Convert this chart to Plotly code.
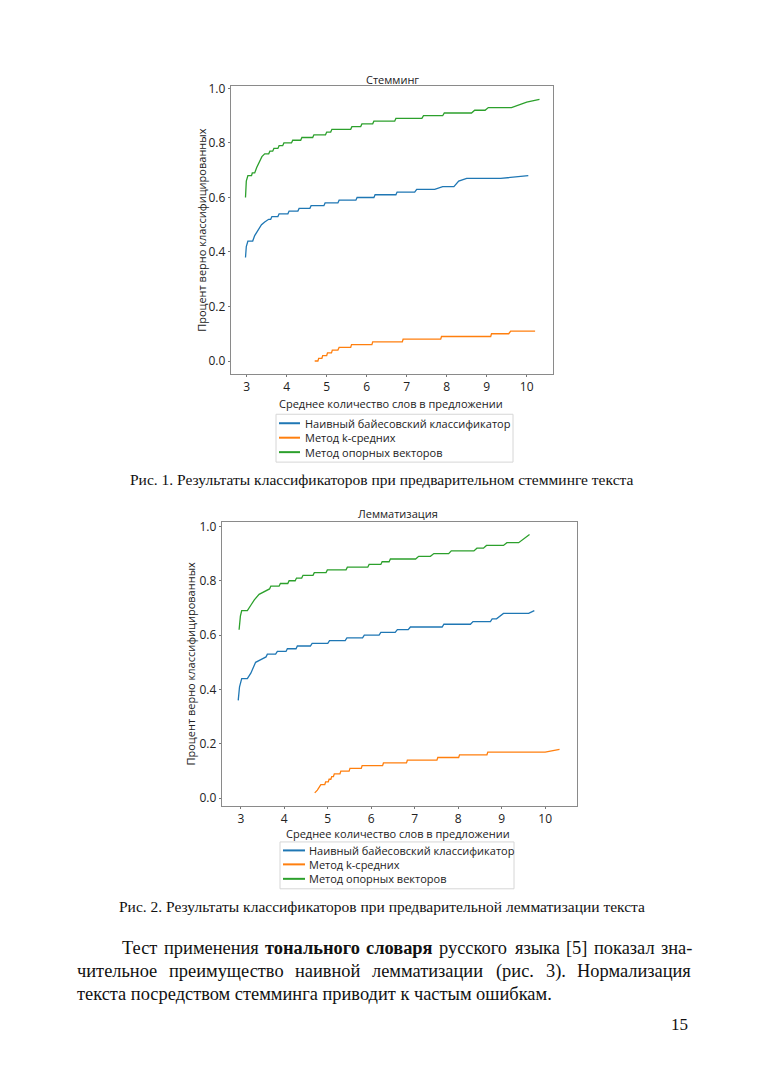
import plotly.graph_objects as go

# ---------------- data ----------------
series_names = ["Наивный байесовский классификатор", "Метод k-средних", "Метод опорных векторов"]
series_colors = ["#1f77b4", "#ff7f0e", "#2ca02c"]

x_ticks = [3, 4, 5, 6, 7, 8, 9, 10]
y_ticks = [0.0, 0.2, 0.4, 0.6, 0.8, 1.0]
y_tick_labels = ["0.0", "0.2", "0.4", "0.6", "0.8", "1.0"]

# Chart 1: stemming
stem_bayes_x = [2.97, 2.99, 3.03, 3.15, 3.2, 3.29, 3.37, 3.45, 3.55, 3.6, 3.63, 3.78, 3.81, 4.03, 4.06, 4.28,
                4.31, 4.58, 4.61, 4.93, 4.96, 5.28, 5.31, 5.73, 5.76, 6.18, 6.21, 6.73, 6.76, 7.2, 7.25, 7.7,
                7.9, 8.18, 8.3, 8.5, 9.35, 10.04]
stem_bayes_y = [0.38, 0.42, 0.44, 0.44, 0.46, 0.48, 0.50, 0.51, 0.52, 0.52, 0.53, 0.53, 0.54, 0.54, 0.55, 0.55,
                0.56, 0.56, 0.57, 0.57, 0.58, 0.58, 0.59, 0.59, 0.60, 0.60, 0.61, 0.61, 0.62, 0.62, 0.63, 0.63,
                0.64, 0.64, 0.66, 0.67, 0.67, 0.68]
stem_kmeans_x = [4.70, 4.78, 4.80, 4.88, 4.90, 5.0, 5.02, 5.12, 5.14, 5.28, 5.31, 5.6, 5.62, 6.13, 6.15, 6.89,
                 6.91, 7.85, 7.87, 9.1, 9.12, 9.55, 9.6, 10.21]
stem_kmeans_y = [0.0, 0.0, 0.01, 0.01, 0.02, 0.02, 0.03, 0.03, 0.04, 0.04, 0.05, 0.05, 0.06, 0.06, 0.07, 0.07,
                 0.08, 0.08, 0.09, 0.09, 0.10, 0.10, 0.11, 0.11]
stem_svm_x = [2.97, 2.99, 3.03, 3.12, 3.14, 3.2, 3.25, 3.32, 3.38, 3.45, 3.55, 3.58, 3.65, 3.68, 3.78, 3.81,
              3.9, 3.93, 4.12, 4.15, 4.35, 4.38, 4.65, 4.68, 4.97, 5.0, 5.1, 5.13, 5.6, 5.63, 5.85, 5.88,
              6.15, 6.18, 6.7, 6.73, 7.38, 7.42, 7.9, 7.94, 8.62, 8.7, 8.96, 9.04, 9.62, 10.0, 10.32]
stem_svm_y = [0.60, 0.66, 0.68, 0.68, 0.69, 0.69, 0.71, 0.73, 0.75, 0.76, 0.76, 0.77, 0.77, 0.78, 0.78, 0.79,
              0.79, 0.80, 0.80, 0.81, 0.81, 0.82, 0.82, 0.83, 0.83, 0.84, 0.84, 0.85, 0.85, 0.86, 0.86, 0.87,
              0.87, 0.88, 0.88, 0.89, 0.89, 0.90, 0.90, 0.91, 0.91, 0.92, 0.92, 0.93, 0.93, 0.95, 0.96]

# Chart 2: lemmatization
lem_bayes_x = [2.94, 2.97, 3.02, 3.15, 3.23, 3.34, 3.46, 3.58, 3.61, 3.8, 3.84, 4.04, 4.07, 4.27, 4.3, 4.6,
               4.64, 5.0, 5.04, 5.4, 5.44, 5.8, 5.84, 6.18, 6.22, 6.55, 6.6, 6.85, 6.9, 7.63, 7.67, 8.28,
               8.34, 8.74, 8.78, 8.88, 9.04, 9.62, 9.75]
lem_bayes_y = [0.36, 0.41, 0.44, 0.44, 0.46, 0.50, 0.51, 0.52, 0.53, 0.53, 0.54, 0.54, 0.55, 0.55, 0.56, 0.56,
               0.57, 0.57, 0.58, 0.58, 0.59, 0.59, 0.60, 0.60, 0.61, 0.61, 0.62, 0.62, 0.63, 0.63, 0.64, 0.64,
               0.65, 0.65, 0.66, 0.66, 0.68, 0.68, 0.69]
lem_kmeans_x = [4.70, 4.76, 4.84, 4.93, 4.95, 5.01, 5.03, 5.07, 5.09, 5.13, 5.15, 5.28, 5.30, 5.49, 5.51,
                5.77, 5.79, 6.26, 6.28, 6.81, 6.83, 7.51, 7.53, 8.01, 8.03, 8.66, 8.68, 10.0, 10.33]
lem_kmeans_y = [0.02, 0.03, 0.05, 0.05, 0.06, 0.06, 0.07, 0.07, 0.08, 0.08, 0.09, 0.09, 0.10, 0.10, 0.11,
                0.11, 0.12, 0.12, 0.13, 0.13, 0.14, 0.14, 0.15, 0.15, 0.16, 0.16, 0.17, 0.17, 0.18]
lem_svm_x = [2.96, 2.99, 3.02, 3.15, 3.23, 3.31, 3.42, 3.53, 3.66, 3.69, 3.88, 3.91, 4.08, 4.11, 4.25, 4.28,
             4.4, 4.43, 4.66, 4.69, 4.96, 4.99, 5.42, 5.45, 5.92, 5.95, 6.22, 6.25, 6.41, 6.44, 7.02, 7.09,
             7.36, 7.44, 7.78, 7.84, 8.36, 8.43, 8.58, 8.65, 9.04, 9.12, 9.39, 9.64]
lem_svm_y = [0.62, 0.67, 0.69, 0.69, 0.71, 0.73, 0.75, 0.76, 0.77, 0.78, 0.78, 0.79, 0.79, 0.80, 0.80, 0.81,
             0.81, 0.82, 0.82, 0.83, 0.83, 0.84, 0.84, 0.85, 0.85, 0.86, 0.86, 0.87, 0.87, 0.88, 0.88, 0.89,
             0.89, 0.90, 0.90, 0.91, 0.91, 0.92, 0.92, 0.93, 0.93, 0.94, 0.94, 0.97]

chart_titles = ["Стемминг", "Лемматизация"]
x_title = "Среднее количество слов в предложении"
y_title = "Процент верно классифицированных"
caption1 = "Рис. 1. Результаты классификаторов при предварительном стемминге текста"
caption2 = "Рис. 2. Результаты классификаторов при предварительной лемматизации текста"
para_line1_words = ["Тест", "применения", "<b>тонального</b>", "<b>словаря</b>", "русского", "языка", "[5]",
                    "показал", "зна-"]
para_line2_words = ["чительное", "преимущество", "наивной", "лемматизации", "(рис.", "3).", "Нормализация"]
para_line3 = "текста посредством стемминга приводит к частым ошибкам."
page_number = "15"

# ---------------- figure ----------------
W, H = 763, 1080


def px_x(v):
    return v / W


def px_y(v):
    corr = max(0.0, 4.5 * (1 - v / 1030))
    return 1 - (v - corr) / H


SANS = "Open Sans, Noto Sans, DejaVu Sans, sans-serif"
SERIF = "Liberation Serif, Times New Roman, serif"
TXT = "#222"

fig = go.Figure()

chart1 = [(stem_bayes_x, stem_bayes_y), (stem_kmeans_x, stem_kmeans_y), (stem_svm_x, stem_svm_y)]
chart2 = [(lem_bayes_x, lem_bayes_y), (lem_kmeans_x, lem_kmeans_y), (lem_svm_x, lem_svm_y)]

for i, (xs, ys) in enumerate(chart1):
    fig.add_trace(go.Scatter(x=xs, y=ys, mode="lines", name=series_names[i],
                             line=dict(color=series_colors[i], width=1.3),
                             xaxis="x", yaxis="y", showlegend=False))
for i, (xs, ys) in enumerate(chart2):
    fig.add_trace(go.Scatter(x=xs, y=ys, mode="lines", name=series_names[i],
                             line=dict(color=series_colors[i], width=1.3),
                             xaxis="x2", yaxis="y2", showlegend=False))

axis_common = dict(showgrid=False, zeroline=False, showline=True, mirror=True,
                   linecolor="#8a8a8a", linewidth=1, ticks="outside", ticklen=2,
                   tickcolor="#777", tickfont=dict(family=SANS, size=12, color=TXT))

fig.update_layout(
    width=W, height=H, autosize=False,
    margin=dict(l=0, r=0, t=0, b=0),
    paper_bgcolor="white", plot_bgcolor="white",
    showlegend=False,
    xaxis=dict(domain=[px_x(230.7), px_x(552.7)], range=[2.6, 10.65], anchor="y",
               tickvals=x_ticks, **axis_common),
    yaxis=dict(domain=[px_y(372.7), px_y(84)], range=[-0.048, 1.008], anchor="x",
               tickvals=y_ticks, ticktext=y_tick_labels, **axis_common),
    xaxis2=dict(domain=[px_x(221.7), px_x(576.5)], range=[2.56, 10.72], anchor="y2",
                tickvals=x_ticks, **axis_common),
    yaxis2=dict(domain=[px_y(805.7), px_y(520.7)], range=[-0.0275, 1.0175], anchor="x2",
                tickvals=y_ticks, ticktext=y_tick_labels, **axis_common),
)

ann = []
shapes = []


def text(t, x, y, size, family=SANS, xanchor="center", angle=0, color=TXT):
    ann.append(dict(text=t, x=px_x(x), y=px_y(y), xref="paper", yref="paper",
                    xanchor=xanchor, yanchor="middle", showarrow=False, textangle=angle,
                    font=dict(family=family, size=size, color=color)))


# chart titles and axis titles
text(chart_titles[0], 392, 77, 11)
text(chart_titles[1], 398, 513, 11)
text(x_title, 391, 402.5, 11)
text(x_title, 398, 834, 11)
text(y_title, 202, 228, 11, angle=-90)
text(y_title, 190, 663, 11, angle=-90)


# legends (drawn boxes with sample lines and labels)
def legend_box(x0, y0, x1, y1, item_ys, line_x0, line_x1, text_x):
    shapes.append(dict(type="rect", xref="paper", yref="paper",
                       x0=px_x(x0), x1=px_x(x1), y0=px_y(y1), y1=px_y(y0),
                       line=dict(color="#d6d6d6", width=1), fillcolor="white"))
    for i, yy in enumerate(item_ys):
        shapes.append(dict(type="line", xref="paper", yref="paper",
                           x0=px_x(line_x0), x1=px_x(line_x1), y0=px_y(yy), y1=px_y(yy),
                           line=dict(color=series_colors[i], width=2)))
        text(series_names[i], text_x, yy, 11, xanchor="left")


legend_box(276, 413, 513, 461, [422, 436.5, 451], 279, 300, 303)
legend_box(280, 842, 514, 889, [850.5, 864.5, 879], 283, 305, 307)

# captions
text(caption1, 381, 478, 15.5, family=SERIF, color="#111")
text(caption2, 382, 907, 15.5, family=SERIF, color="#111")

# paragraph (justified lines: each word placed at its left edge)
SERIF_SIZE = 18.4
line1_lefts = [120, 161.6, 263.0, 364.2, 437.1, 512.6, 564.4, 591.8, 658.6]
for w, xl in zip(para_line1_words, line1_lefts):
    text(w, xl, 948, SERIF_SIZE, family=SERIF, xanchor="left", color="#111")
line2_lefts = [75, 166.9, 293.1, 370.3, 493.8, 543.5, 575.2]
for w, xl in zip(para_line2_words, line2_lefts):
    text(w, xl, 971.5, SERIF_SIZE, family=SERIF, xanchor="left", color="#111")
text(para_line3, 75, 995, SERIF_SIZE, family=SERIF, xanchor="left", color="#111")
text(page_number, 690, 1025, 17, family=SERIF, xanchor="right", color="#111")

fig.update_layout(annotations=ann, shapes=shapes)

fig.write_html("out.html", config={"displayModeBar": False},
               post_script="document.body.style.margin='0';document.body.style.padding='0';")
